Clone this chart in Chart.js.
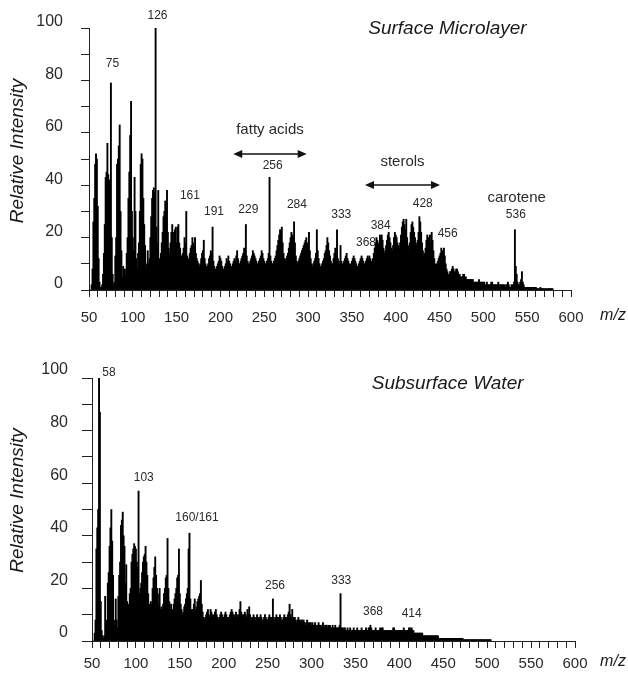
<!DOCTYPE html>
<html>
<head>
<meta charset="utf-8">
<script src="https://cdn.jsdelivr.net/npm/chart.js@4"></script>
<style>
  body { margin: 0; background: #fff; }
  #wrap { position: relative; width: 628px; height: 675px; }
  canvas { position: absolute; left: 0; }
</style>
</head>
<body>
<div id="wrap">
  <canvas id="topChart" width="628" height="330" style="top:0px"></canvas>
  <canvas id="bottomChart" width="628" height="345" style="top:330px"></canvas>
</div>
<script>
// m/z axis starts at 50, one value per unit mass
var mzStart = 50
var mzMin = 50
var mzMax = 600

// relative intensity, m/z 50, 51, 52 ... (rows of 10)
var surfaceMicrolayer = [
  0,0,0,2,8,26,35,48,52,50,
  32,12,3,1,1,2,6,14,25,43,
  45,56,44,42,36,79,20,6,2,3,
  13,20,48,50,55,63,30,15,5,9,
  4,8,6,14,20,35,45,59,72,30,
  20,15,43,30,12,8,14,18,30,48,
  52,50,35,25,17,10,8,15,10,12,
  20,28,35,38,39,37,100,24,18,38,
  12,10,14,18,22,28,30,34,30,38,
  22,16,14,18,22,25,15,22,23,24,
  18,24,25,18,16,13,12,14,16,20,
  18,30,13,11,12,14,16,17,20,18,
  17,20,14,12,11,10,9,10,12,14,
  15,19,12,10,9,9,10,12,13,15,
  14,24,11,9,8,8,9,10,11,13,
  12,11,9,8,8,9,10,12,11,13,
  11,10,9,9,10,11,12,11,13,15,
  12,10,10,11,12,13,14,16,14,25,
  13,11,10,10,11,12,13,15,14,13,
  12,11,10,10,11,12,13,15,14,12,
  11,10,10,11,12,14,43,13,11,10,
  10,11,12,13,15,17,19,21,23,22,
  24,18,14,12,11,12,13,14,16,18,
  20,22,21,20,26,18,13,11,10,11,
  12,13,14,15,16,17,18,19,20,18,
  17,22,15,12,10,9,10,11,12,14,
  23,15,12,10,9,9,10,11,12,14,
  15,17,20,18,15,13,11,10,10,12,
  14,16,13,23,12,11,10,17,11,10,
  10,11,12,13,14,12,11,10,9,10,
  11,12,13,12,11,10,9,9,10,11,
  12,13,12,11,10,10,11,12,13,12,
  13,12,11,11,12,14,16,18,20,19,
  17,18,21,20,21,19,16,14,15,17,
  19,21,22,20,18,16,15,17,20,22,
  21,20,18,17,16,18,21,24,26,27,
  25,23,27,20,17,15,18,22,25,26,
  24,22,20,18,17,19,22,28,26,22,
  18,15,13,14,16,19,21,20,18,21,
  18,22,19,15,12,10,9,10,11,12,
  13,14,16,15,14,16,13,10,8,7,
  6,6,7,7,8,9,8,7,7,8,
  8,7,6,6,5,5,5,6,6,5,
  5,4,4,4,4,4,4,4,4,3,
  3,3,3,3,3,4,3,3,3,3,
  3,3,2,2,3,2,2,2,2,3,
  3,2,2,2,2,2,2,3,2,2,
  2,2,2,2,2,1,2,2,3,2,
  1,1,2,2,2,3,23,9,6,3,
  2,2,3,4,7,3,2,1,1,1,
  1,1,1,1,1,1,1,1,1,1,
  1,0.5,0.5,0.5,0.5,1,0.5,0.5,0.5,0.5,
  0.5,0.5,0.5,0.5,0.5,0.5,0.5,0.5,0.5,0.5
]

var subsurfaceWater = [
  0,0,0,3,8,35,43,50,100,87,
  15,4,2,1,2,17,3,8,22,26,
  36,43,50,38,25,8,6,16,8,5,
  17,25,30,44,46,49,40,36,22,29,
  15,10,14,18,20,30,33,35,37,36,
  35,30,28,57,18,20,22,26,30,32,
  33,36,30,25,18,14,12,15,14,20,
  24,28,32,25,20,18,14,20,12,13,
  12,14,18,20,24,25,39,20,15,12,
  14,10,12,14,16,18,20,24,25,35,
  18,14,12,10,11,13,14,16,18,20,
  35,41,16,12,10,12,14,16,12,13,
  15,16,17,18,23,14,11,9,8,9,
  10,11,12,10,9,12,11,10,9,10,
  11,12,10,9,8,9,10,11,10,9,
  9,10,11,10,9,8,9,10,11,12,
  11,10,9,10,11,10,9,10,12,15,
  11,10,9,10,11,10,9,12,10,13,
  10,9,8,9,10,9,8,9,10,9,
  8,9,10,9,8,8,9,10,9,8,
  8,9,10,9,8,9,16,9,8,9,
  10,9,8,9,10,9,8,8,9,10,
  9,8,9,10,11,14,10,9,12,9,
  8,9,8,7,8,9,8,7,8,8,
  7,8,7,6,7,8,7,6,7,7,
  6,7,6,6,7,6,5,6,7,6,
  6,5,6,7,6,5,6,6,5,6,
  5,6,5,5,6,5,5,6,5,5,
  5,5,6,18,5,5,4,5,5,4,
  4,5,4,4,5,4,4,4,5,4,
  4,4,5,4,4,4,4,5,4,4,
  4,4,5,4,4,5,5,6,5,4,
  4,4,4,5,4,4,4,4,5,4,
  5,5,4,4,4,4,4,4,4,4,
  4,4,4,5,5,4,4,4,4,4,
  4,4,4,4,4,5,4,4,4,4,
  4,5,5,4,5,4,4,3,3,3,
  3,3,3,3,3,3,3,2,2,2,
  2,2,2,2,2,2,2,2,2,2,
  2,2,2,2,2,1,1,1,1,1,
  1,1,1,1,1,1,1,1,1,1,
  1,1,1,1,1,1,1,1,1,1,
  1,1,1,0.5,0.5,0.5,0.5,0.5,0.5,0.5,
  0.5,0.5,0.5,0.5,0.5,0.5,0.5,0.5,0.5,0.5,
  0.5,0.5,0.5,0.5,0.5,0.5,0.5,0.5,0.5,0.5,
  0.5,0.5,0.5,0.5,0.5
]

// peak labels: text, m/z and intensity where the text sits
var topLabelText = ['75','126','161','191','229','256','284','333','368','384','428','456','536','carotene']
var topLabelMz   = [76.8,128.2,165.2,192.6,231.8,259.6,287.3,337.8,366.1,382.8,430.8,459.3,537,538]
var topLabelY    = [86.5,104.6,36,29.7,30.8,47.4,32.4,28.6,18.2,24.4,32.8,21.6,28.6,35.2]

var bottomLabelText = ['58','103','160/161','256','333','368','414']
var bottomLabelMz   = [69.4,108.9,169.6,258.4,333.8,370,414]
var bottomLabelY    = [101.9,62,46.9,20.9,22.9,11.2,10.2]

// compound ranges: name, from m/z, to m/z, arrow level, text level
var rangeName = ['fatty acids','sterols']
var rangeFrom = [214.6,364.9]
var rangeTo   = [298.4,450.5]
var rangeY    = [51.9,40.1]
var rangeTextY = [61.3,49]

var fontFamily = "'Liberation Sans', Arial, Helvetica, sans-serif"
var textColor = '#2a2a2a'

function toPoints(values){
  var pts = []
  for (var i = 0; i < values.length; i++){
    pts.push({x: mzStart + i, y: values[i]})
  }
  return pts
}

function drawArrow(ctx, x1, x2, y){
  var head = 9
  ctx.beginPath()
  ctx.moveTo(x1 + head - 1, y)
  ctx.lineTo(x2 - head + 1, y)
  ctx.lineWidth = 1.5
  ctx.strokeStyle = '#111'
  ctx.stroke()
  ctx.beginPath()
  ctx.moveTo(x1, y); ctx.lineTo(x1 + head, y - 4); ctx.lineTo(x1 + head, y + 4); ctx.closePath()
  ctx.moveTo(x2, y); ctx.lineTo(x2 - head, y - 4); ctx.lineTo(x2 - head, y + 4); ctx.closePath()
  ctx.fillStyle = '#111'
  ctx.fill()
}

function makeNotes(cfg){
  return {
    id: 'notes',
    afterDraw: function(chart){
      var ctx = chart.ctx
      var xs = chart.scales.x
      var ys = chart.scales.y
      var area = chart.chartArea
      ctx.save()
      ctx.fillStyle = textColor
      ctx.textAlign = 'center'
      ctx.textBaseline = 'middle'

      // peak labels
      for (var i = 0; i < cfg.text.length; i++){
        var t = cfg.text[i]
        ctx.font = (t == 'carotene' ? '15px ' : '12px ') + fontFamily
        ctx.fillStyle = textColor
        ctx.fillText(t, xs.getPixelForValue(cfg.mz[i]), ys.getPixelForValue(cfg.y[i]))
      }

      // ranges with double arrows
      if (cfg.ranges){
        for (var j = 0; j < rangeName.length; j++){
          var a = xs.getPixelForValue(rangeFrom[j])
          var b = xs.getPixelForValue(rangeTo[j])
          ctx.font = '15px ' + fontFamily
          ctx.fillStyle = textColor
          ctx.fillText(rangeName[j], (a + b) / 2, ys.getPixelForValue(rangeTextY[j]))
          drawArrow(ctx, a, b, ys.getPixelForValue(rangeY[j]))
        }
      }

      // panel title
      ctx.fillStyle = '#1a1a1a'
      ctx.font = 'italic 19px ' + fontFamily
      ctx.fillText(cfg.title, xs.getPixelForValue(cfg.titleMz), ys.getPixelForValue(cfg.titleY))

      // y axis title
      ctx.save()
      ctx.translate(18, (area.top + area.bottom) / 2 + cfg.yTitleDy)
      ctx.rotate(-Math.PI / 2)
      ctx.fillText('Relative Intensity', 0, 0)
      ctx.restore()

      // x axis unit
      ctx.font = 'italic 16px ' + fontFamily
      ctx.fillText('m/z', area.right + cfg.mzDx, area.bottom + cfg.mzDy)

      ctx.restore()
    }
  }
}

function spectrum(canvasId, values, pad, yWidth, xHeight, padX, tickLenY, padY, offY, notes){
  new Chart(canvasId, {
    type: 'bar',
    data: {
      datasets: [{
        data: toPoints(values),
        backgroundColor: '#000',
        borderWidth: 0,
        barThickness: 1.25
      }]
    },
    options: {
      responsive: false,
      animation: false,
      devicePixelRatio: 1,
      layout: { padding: pad },
      plugins: {
        legend: { display: false },
        tooltip: { enabled: false }
      },
      scales: {
        x: {
          type: 'linear',
          min: mzMin,
          max: mzMax,
          offset: false,
          afterFit: function(s){ s.height = xHeight },
          border: { display: true, color: '#222', width: 1 },
          grid: { display: true, drawOnChartArea: false, offset: false, tickLength: 7, color: '#222' },
          ticks: {
            stepSize: 10,
            autoSkip: false,
            maxRotation: 0,
            padding: padX,
            color: textColor,
            font: { family: fontFamily, size: 15 },
            callback: function(v){ return v % 50 === 0 ? v : '' }
          }
        },
        y: {
          min: 0,
          max: 100,
          afterFit: function(s){ s.width = yWidth },
          border: { display: true, color: '#222', width: 1 },
          grid: { display: true, drawOnChartArea: false, tickLength: tickLenY, color: '#222' },
          ticks: {
            stepSize: 10,
            padding: padY,
            labelOffset: offY,
            color: textColor,
            font: { family: fontFamily, size: 16 },
            callback: function(v){ return v % 20 === 0 ? v : '' }
          }
        }
      }
    },
    plugins: [makeNotes(notes)]
  })
}

spectrum('topChart', surfaceMicrolayer, {top: 28, right: 57, left: 0, bottom: 0}, 89, 40, 12, 8, 18, -6, {
  text: topLabelText, mz: topLabelMz, y: topLabelY, ranges: true,
  title: 'Surface Microlayer', titleMz: 459, titleY: 99.7,
  mzDx: 42, mzDy: 26, yTitleDy: -8
})

spectrum('bottomChart', subsurfaceWater, {top: 48, right: 53, left: 0, bottom: 0}, 92, 34, 7, 10, 14, -8, {
  text: bottomLabelText, mz: bottomLabelMz, y: bottomLabelY, ranges: false,
  title: 'Subsurface Water', titleMz: 455, titleY: 98,
  mzDx: 38, mzDy: 21, yTitleDy: -9
})
</script>
</body>
</html>
